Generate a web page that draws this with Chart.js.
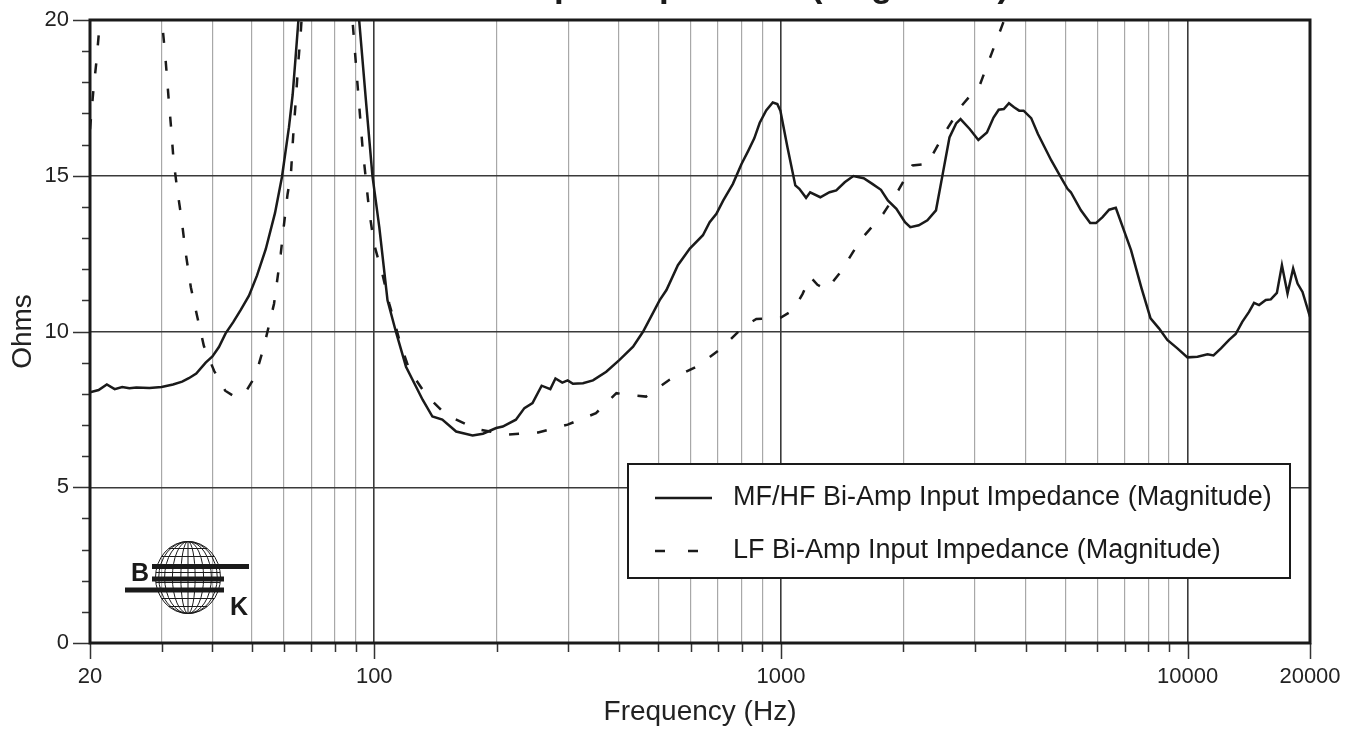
<!DOCTYPE html>
<html>
<head>
<meta charset="utf-8">
<title>Input Impedance (Magnitude)</title>
<script src="https://cdn.jsdelivr.net/npm/chart.js@4.4.1/dist/chart.umd.min.js"></script>
<style>
  html, body { margin: 0; padding: 0; background: #fff; }
  #wrap { width: 1357px; height: 730px; }
</style>
</head>
<body>
<div id="wrap"><canvas id="impedanceChart"></canvas></div>
<script>
// MF/HF bi-amp input, solid trace (Hz / ohms)
const mfFreq = [20, 21, 22, 23, 24, 25, 26, 28, 30, 32, 33.7, 35, 36.5, 38.5, 40, 41.5, 43.1, 45, 47, 49.2,
  51.5, 54.1, 57, 59.3, 61.7, 63, 64.1, 65.1, 68, 75, 82, 88, 91.8, 95.4, 99, 102.9, 107.8, 113, 119.7,
  131.5, 139, 147, 159, 174.5, 185, 199.5, 207, 223, 234, 245, 258, 271, 279, 290, 299, 308, 326, 345,
  372, 401, 433, 458, 484, 503, 523, 558, 597, 643, 668, 694, 721, 762, 800, 831, 860, 887, 920, 955,
  980, 997, 1038, 1085, 1110, 1153, 1180, 1250, 1317, 1368, 1435, 1507, 1598, 1678, 1762, 1832, 1923,
  2019, 2080, 2183, 2292, 2406, 2500, 2597, 2697, 2765, 2912, 3058, 3211, 3333, 3432, 3533, 3637, 3744,
  3854, 3951, 4125, 4286, 4623, 4881, 5067, 5164, 5467, 5762, 5953, 6179, 6414, 6660, 7260, 7700, 8108,
  8504, 8916, 9439, 9994, 10579, 11196, 11580, 12080, 12650, 13130, 13630, 14160, 14570, 14990, 15570,
  16020, 16580, 17060, 17610, 18180, 18640, 19170, 20000]
const mfOhms = [8.05, 8.12, 8.3, 8.15, 8.22, 8.18, 8.2, 8.19, 8.22, 8.3, 8.39, 8.5, 8.65, 9.0, 9.2, 9.5, 9.94, 10.3, 10.7, 11.15,
  11.8, 12.64, 13.8, 14.96, 16.56, 17.6, 18.85, 20.0, 24, 30, 30, 24, 20.0, 17.41, 14.99, 13.35, 11.0, 10.0, 8.87,
  7.81, 7.27, 7.17, 6.79, 6.66, 6.72, 6.9, 6.95, 7.17, 7.54, 7.7, 8.26, 8.15, 8.49, 8.36, 8.43, 8.32, 8.34, 8.43,
  8.71, 9.09, 9.51, 9.99, 10.58, 11.0, 11.33, 12.13, 12.66, 13.09, 13.51, 13.78, 14.2, 14.74, 15.38, 15.8, 16.2, 16.7, 17.1, 17.35,
  17.3, 17.09, 15.91, 14.69, 14.58, 14.29, 14.47, 14.31, 14.47, 14.53, 14.79, 14.99, 14.92, 14.74, 14.55, 14.21, 13.94,
  13.51, 13.35, 13.41, 13.57, 13.89, 15.06, 16.23, 16.68, 16.82, 16.5, 16.15, 16.39, 16.87, 17.12, 17.14, 17.33, 17.2,
  17.09, 17.09, 16.85, 16.34, 15.49, 14.95, 14.58, 14.47, 13.89, 13.48, 13.48, 13.67, 13.91, 13.97, 12.61, 11.4, 10.42,
  10.1, 9.73, 9.46, 9.17, 9.19, 9.27, 9.23, 9.46, 9.73, 9.92, 10.31, 10.63, 10.92, 10.85, 11.01,
  11.03, 11.24, 12.13, 11.22, 12.02, 11.54, 11.27, 10.47]

// LF bi-amp input, dashed trace (Hz / ohms)
const lfFreq = [20, 20.4, 20.75, 21.1, 21.5, 23, 28, 30.1, 30.7, 31.2, 31.7, 32.1, 32.8, 33.6, 34.4, 35.4, 36.7,
  38.1, 40.4, 41.5, 43, 45.2, 46.5, 48.5, 51.1, 53.6, 55.1, 56.7, 57.8, 58.9, 60, 61.2, 62.4, 63.2, 64.1, 65,
  66, 67, 75, 82, 86, 88.4, 91, 93.6, 97.2, 100, 104.8, 108.9, 116, 122, 134, 150, 178, 211, 253, 299, 351,
  394, 430, 466, 532, 620, 714, 808, 870, 922, 1000, 1073, 1130, 1181, 1230, 1297, 1400, 1568, 1785, 1944,
  2105, 2292, 2518, 2783, 3089, 3280, 3497, 3800]
const lfOhms = [16.5, 17.78, 18.69, 19.8, 21, 26, 26, 19.9, 18.69, 17.51, 16.45, 15.49, 14.53, 13.59, 12.5, 11.42, 10.48,
  9.54, 8.73, 8.46, 8.1, 7.92, 7.92, 8.1, 8.59, 9.54, 10.2, 10.89, 11.7, 12.5, 13.45, 14.4, 15.07, 16.29, 17.37, 18.58,
  19.66, 21, 28, 28, 22, 20, 17.9, 15.9, 13.86, 12.78, 11.83, 10.89, 9.6, 8.77, 7.97, 7.33, 6.87, 6.69, 6.76, 7.01, 7.38,
  8.02, 7.95, 7.91, 8.45, 8.87, 9.46, 10.15, 10.4, 10.42, 10.45, 10.69, 11.2, 11.75, 11.5, 11.35, 11.9, 12.93, 13.78, 14.53,
  15.33, 15.38, 16.34, 17.25, 17.94, 18.85, 19.81, 21.1]

const freqTicks = [20, 30, 40, 50, 60, 70, 80, 90, 100, 200, 300, 400, 500, 600, 700, 800, 900,
  1000, 2000, 3000, 4000, 5000, 6000, 7000, 8000, 9000, 10000, 20000]
const freqLabels = [20, 100, 1000, 10000, 20000]
const majorFreqLines = [100, 1000, 10000]
const ohmLabels = [0, 5, 10, 15, 20]
const seriesNames = ['MF/HF Bi-Amp Input Impedance (Magnitude)', 'LF Bi-Amp Input Impedance (Magnitude)']
const chartTitle = 'Input Impedance (Magnitude)'

const ink = '#1a1a1a'
const fontFamily = "'Liberation Sans', Arial, sans-serif"

const toPoints = (freq, ohms) => freq.map((f, i) => ({ x: f, y: ohms[i] }))

// frame round the plot area plus short outer tick marks
const framePlugin = {
  id: 'frame',
  afterDatasetsDraw(chart) {
    const { ctx, chartArea: a, scales: { x, y } } = chart
    ctx.save()
    ctx.strokeStyle = '#333'
    ctx.lineWidth = 1.5
    ctx.beginPath()
    for (let v = 0; v <= 20; v++) {
      const py = Math.round(y.getPixelForValue(v)) + 0.5
      const len = ohmLabels.includes(v) ? 17 : 8
      ctx.moveTo(a.left - len, py)
      ctx.lineTo(a.left, py)
    }
    freqTicks.forEach(f => {
      const px = Math.round(x.getPixelForValue(f)) + 0.5
      const len = freqLabels.includes(f) ? 16 : 9
      ctx.moveTo(px, a.bottom)
      ctx.lineTo(px, a.bottom + len)
    })
    ctx.stroke()
    ctx.strokeStyle = ink
    ctx.lineWidth = 3
    ctx.strokeRect(a.left, a.top, a.right - a.left, a.bottom - a.top)
    ctx.restore()
  }
}

// boxed legend in the lower right of the plot
const boxLegendPlugin = {
  id: 'boxLegend',
  afterDraw(chart) {
    const { ctx, chartArea: a } = chart
    const w = 662, h = 114
    const left = a.right - 20 - w
    const top = a.bottom - 65 - h
    ctx.save()
    ctx.fillStyle = '#fff'
    ctx.fillRect(left, top, w, h)
    ctx.strokeStyle = ink
    ctx.lineWidth = 2
    ctx.strokeRect(left, top, w, h)
    chart.data.datasets.forEach((ds, i) => {
      const cy = top + 34 + i * 53
      ctx.lineWidth = ds.borderWidth
      ctx.strokeStyle = ds.borderColor
      ctx.setLineDash(ds.borderDash ? [10, 23] : [])
      ctx.beginPath()
      ctx.moveTo(left + 27, cy)
      ctx.lineTo(left + (ds.borderDash ? 72 : 84), cy)
      ctx.stroke()
      ctx.setLineDash([])
      ctx.fillStyle = ink
      ctx.font = '27px ' + fontFamily
      ctx.textBaseline = 'middle'
      ctx.fillText(ds.label, left + 105, cy)
    })
    ctx.restore()
  }
}

// globe badge with the B and K initials
const badgePlugin = {
  id: 'badge',
  afterDraw(chart) {
    const { ctx, chartArea: a } = chart
    const cx = a.left + 98, cy = a.bottom - 65.5, rx = 32.5, ry = 36
    ctx.save()
    ctx.strokeStyle = ink
    ctx.lineWidth = 1
    ctx.beginPath()
    ctx.ellipse(cx, cy, rx, ry, 0, 0, Math.PI * 2)
    ctx.stroke()
    ;[0.22, 0.48, 0.72, 0.9].forEach(k => {
      ctx.beginPath()
      ctx.ellipse(cx, cy, rx * k, ry, 0, 0, Math.PI * 2)
      ctx.stroke()
    })
    ctx.beginPath()
    ctx.moveTo(cx, cy - ry)
    ctx.lineTo(cx, cy + ry)
    ;[-29, -21, -13, -5, 5, 13, 21, 29].forEach(d => {
      const half = rx * Math.sqrt(1 - (d / ry) * (d / ry))
      ctx.moveTo(cx - half, cy + d)
      ctx.lineTo(cx + half, cy + d)
    })
    ctx.stroke()
    ctx.fillStyle = ink
    ctx.fillRect(a.left + 62, a.bottom - 79, 97, 5)
    ctx.fillRect(a.left + 62, a.bottom - 66.5, 72, 5)
    ctx.fillRect(a.left + 35, a.bottom - 55.5, 99, 5)
    ctx.font = 'bold 25px ' + fontFamily
    ctx.textBaseline = 'alphabetic'
    ctx.fillText('B', a.left + 41, a.bottom - 62)
    ctx.fillText('K', a.left + 140, a.bottom - 28)
    ctx.restore()
  }
}

// heading sits above the top edge of the canvas
const headingPlugin = {
  id: 'heading',
  afterDraw(chart) {
    const { ctx } = chart
    ctx.save()
    ctx.fillStyle = ink
    ctx.font = 'bold 35px ' + fontFamily
    ctx.textBaseline = 'alphabetic'
    ctx.fillText(chartTitle, 523, -3.5)
    ctx.restore()
  }
}

Chart.defaults.font.family = fontFamily
Chart.defaults.color = '#222'

const ctx = document.getElementById('impedanceChart')
new Chart(ctx, {
  type: 'line',
  data: {
    datasets: [{
      label: seriesNames[0],
      data: toPoints(mfFreq, mfOhms),
      borderColor: ink,
      borderWidth: 2.5,
      pointRadius: 0,
      tension: 0,
      clip: 0
    }, {
      label: seriesNames[1],
      data: toPoints(lfFreq, lfOhms),
      borderColor: ink,
      borderWidth: 2.5,
      borderDash: [10, 18],
      pointRadius: 0,
      tension: 0,
      clip: 0
    }]
  },
  options: {
    responsive: true,
    maintainAspectRatio: false,
    animation: false,
    events: [],
    layout: { padding: { top: 20, right: 47, left: 0, bottom: 0 } },
    plugins: {
      legend: { display: false },
      tooltip: { enabled: false }
    },
    scales: {
      x: {
        type: 'logarithmic',
        min: 20,
        max: 20000,
        afterBuildTicks: scale => { scale.ticks = freqTicks.map(v => ({ value: v })) },
        afterFit: scale => {
          scale.height = 87
          scale.paddingLeft = 0
          scale.paddingRight = 0
        },
        border: { display: false },
        grid: {
          drawTicks: false,
          color: c => {
            const v = c.tick && c.tick.value
            if (v === 20 || v === 20000) return 'rgba(0,0,0,0)'
            return majorFreqLines.includes(v) ? '#3a3a3a' : '#a8a8a8'
          },
          lineWidth: c => majorFreqLines.includes(c.tick && c.tick.value) ? 1.6 : 1.2
        },
        ticks: {
          autoSkip: false,
          maxRotation: 0,
          padding: 21,
          font: { size: 22 },
          callback: v => freqLabels.includes(v) ? String(v) : ''
        },
        title: {
          display: true,
          text: 'Frequency (Hz)',
          font: { size: 28 },
          padding: { top: 0, bottom: 1 }
        }
      },
      y: {
        min: 0,
        max: 20,
        afterFit: scale => {
          scale.width = 90
          scale.paddingTop = 0
          scale.paddingBottom = 0
        },
        border: { display: false },
        grid: {
          drawTicks: false,
          color: c => {
            const v = c.tick && c.tick.value
            return (v % 5 === 0 && v !== 0 && v !== 20) ? '#3a3a3a' : 'rgba(0,0,0,0)'
          },
          lineWidth: 1.4
        },
        ticks: {
          stepSize: 1,
          autoSkip: false,
          padding: 21,
          font: { size: 22 },
          callback: v => ohmLabels.includes(v) ? String(v) : ''
        },
        title: {
          display: true,
          text: 'Ohms',
          font: { size: 28 },
          padding: { top: 6, bottom: 0 }
        }
      }
    }
  },
  plugins: [framePlugin, boxLegendPlugin, badgePlugin, headingPlugin]
})
</script>
</body>
</html>
